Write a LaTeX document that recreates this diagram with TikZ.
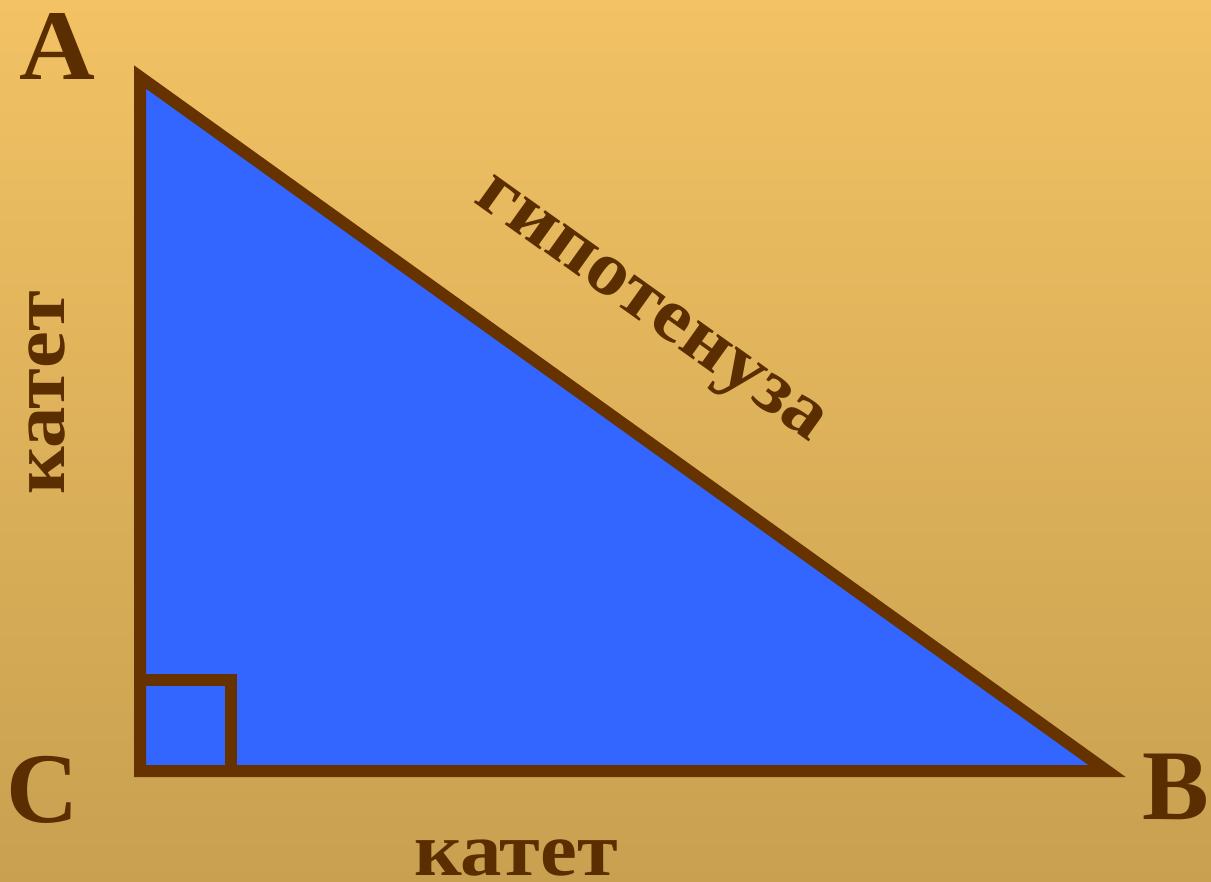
\documentclass[tikz,border=0pt]{standalone}
\usepackage{fontspec}
\setmainfont{Liberation Serif}
\begin{document}
\begin{tikzpicture}[x=1pt,y=-1pt,
  edge/.style={draw=lineBrown,line width=12pt,line join=miter},
  vlabel/.style={text=textBrown,font=\bfseries\fontsize{100}{100}\selectfont,inner sep=0pt},
  slabel/.style={text=textBrown,font=\bfseries\fontsize{76}{76}\selectfont,inner sep=0pt}]
\definecolor{lineBrown}{HTML}{663300}
\definecolor{textBrown}{HTML}{5A2E00}
\definecolor{bgTop}{HTML}{F2C264}
\definecolor{bgBot}{HTML}{C8A050}
\definecolor{triBlue}{HTML}{3366FF}
\shade[top color=bgTop,bottom color=bgBot] (0,0) rectangle (1211,882);
\useasboundingbox (0,0) rectangle (1211,882);
\coordinate (A) at (140,77);
\coordinate (C) at (140,771);
\coordinate (B) at (1107,771);
\filldraw[edge,fill=triBlue] (A) -- (B) -- (C) -- cycle;
\draw[edge] (140,680) -| (231,771);
\node[vlabel] (lA) at (57,46) {\scalebox{1.05}[1]{A}};
\node[vlabel] (lC) at (43,790) {C};
\node[vlabel] (lB) at (1176,787) {B};
\node[slabel,anchor=base] (kb) at (516,875) {\scalebox{1.09}[1]{катет}};
\node[slabel,anchor=base,rotate=90] (kl) at (64,393) {\scalebox{1.09}[1]{катет}};
\node[slabel,rotate=-35.6] (hyp) at (647,314) {\scalebox{1.09}[1]{гипотенуза}};
\end{tikzpicture}
\end{document}
